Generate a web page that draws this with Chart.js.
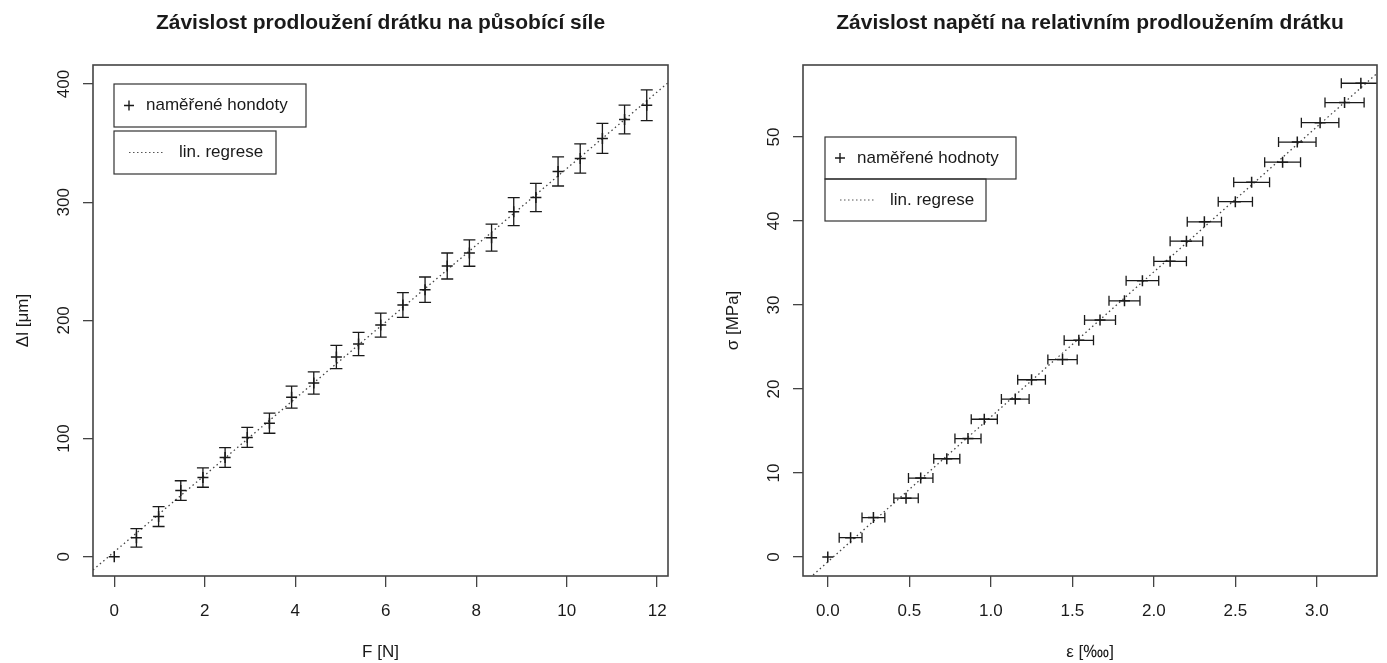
<!DOCTYPE html>
<html>
<head>
<meta charset="utf-8">
<script src="https://cdn.jsdelivr.net/npm/chart.js@4/dist/chart.umd.min.js"></script>
<style>
  html, body { margin: 0; padding: 0; background: #fff; }
  #wrap { position: relative; width: 1387px; height: 663px; }
  #wrap canvas { position: absolute; left: 0; top: 0; }
</style>
</head>
<body>
<div id="wrap">
  <canvas id="left-chart" width="1387" height="663"></canvas>
  <canvas id="right-chart" width="1387" height="663"></canvas>
</div>
<script>
// zavazi po 50 g -> sila F [N]
let forceN = [0, 0.49, 0.98, 1.47, 1.96, 2.45, 2.94, 3.43, 3.92, 4.41, 4.91, 5.40, 5.89,
              6.38, 6.87, 7.36, 7.85, 8.34, 8.83, 9.32, 9.81, 10.30, 10.79, 11.28, 11.77];
let elongUm = [0, 16, 34, 56, 67, 84, 101, 113, 135, 147, 169, 180, 196,
               213, 226, 246, 257, 270, 292, 304, 326, 337, 354, 370, 382];
let elongErr = [0, 7.8, 8.4, 8.3, 8.2, 8.3, 8.5, 8.5, 9.3, 9.4, 9.8, 9.9, 10.2,
                10.5, 10.7, 11.0, 11.2, 11.4, 11.8, 11.9, 12.3, 12.4, 12.7, 12.1, 13.0];

// relativni prodlouzeni a napeti
let strain = [0, 0.14, 0.28, 0.48, 0.57, 0.73, 0.86, 0.96, 1.15, 1.25, 1.44, 1.54, 1.67,
              1.82, 1.93, 2.10, 2.20, 2.31, 2.50, 2.60, 2.79, 2.88, 3.02, 3.17, 3.27];
let strainErr = [0, 0.07, 0.07, 0.075, 0.075, 0.08, 0.08, 0.08, 0.085, 0.085, 0.09, 0.09, 0.095,
                 0.095, 0.10, 0.10, 0.10, 0.105, 0.105, 0.11, 0.11, 0.115, 0.115, 0.12, 0.12];
let stressMPa = [0, 2.3, 4.7, 7.0, 9.4, 11.7, 14.1, 16.4, 18.8, 21.1, 23.5, 25.8, 28.2,
                 30.5, 32.9, 35.2, 37.6, 39.9, 42.3, 44.6, 47.0, 49.4, 51.7, 54.1, 56.4];

let forceTicks = [0, 2, 4, 6, 8, 10, 12];
let elongTicks = [0, 100, 200, 300, 400];
let strainTicks = [0, 0.5, 1.0, 1.5, 2.0, 2.5, 3.0];
let stressTicks = [0, 10, 20, 30, 40, 50];

const FONT = "'Liberation Sans', Arial, Helvetica, sans-serif";
const INK = '#1a1a1a';

// obycejna linearni regrese y = a + b x
let fit = (xs, ys) => {
  let n = xs.length, sx = 0, sy = 0, sxx = 0, sxy = 0;
  for (let i = 0; i < n; i++) { sx += xs[i]; sy += ys[i]; sxx += xs[i]*xs[i]; sxy += xs[i]*ys[i]; }
  let b = (n*sxy - sx*sy) / (n*sxx - sx*sx);
  return [(sy - b*sx) / n, b];
};

let rStyle = (cfg) => ({
  id: 'rstyle',
  afterDatasetsDraw(chart) {
    let ctx = chart.ctx, xs = chart.scales.x, ys = chart.scales.y, a = chart.chartArea;
    ctx.save();
    // chybove usecky orezat na oblast grafu jako v R
    ctx.beginPath();
    ctx.rect(a.left, a.top, a.right - a.left, a.bottom - a.top);
    ctx.clip();
    ctx.strokeStyle = INK;
    ctx.lineWidth = 1.3;
    cfg.xs.forEach((xv, i) => {
      let e = cfg.err[i];
      if (!e) return;
      let px = xs.getPixelForValue(xv), py = ys.getPixelForValue(cfg.ys[i]);
      ctx.beginPath();
      if (cfg.errAxis === 'y') {
        let y1 = ys.getPixelForValue(cfg.ys[i] - e), y2 = ys.getPixelForValue(cfg.ys[i] + e);
        ctx.moveTo(px, y1); ctx.lineTo(px, y2);
        ctx.moveTo(px - 6, y1); ctx.lineTo(px + 6, y1);
        ctx.moveTo(px - 6, y2); ctx.lineTo(px + 6, y2);
      } else {
        let x1 = xs.getPixelForValue(xv - e), x2 = xs.getPixelForValue(xv + e);
        ctx.moveTo(x1, py); ctx.lineTo(x2, py);
        ctx.moveTo(x1, py - 5); ctx.lineTo(x1, py + 5);
        ctx.moveTo(x2, py - 5); ctx.lineTo(x2, py + 5);
      }
      ctx.stroke();
    });
    ctx.restore();
  },
  afterDraw(chart) {
    let ctx = chart.ctx, a = chart.chartArea, ys = chart.scales.y;
    let cx = (a.left + a.right) / 2, cy = (a.top + a.bottom) / 2;
    ctx.save();
    // ramecek
    ctx.strokeStyle = '#444';
    ctx.lineWidth = 1.6;
    ctx.strokeRect(a.left, a.top, a.right - a.left, a.bottom - a.top);

    ctx.fillStyle = INK;
    // nadpis
    ctx.font = 'bold 21px ' + FONT;
    ctx.textAlign = 'center';
    ctx.textBaseline = 'alphabetic';
    ctx.fillText(cfg.title, cx, 29);

    ctx.font = '17px ' + FONT;
    ctx.textBaseline = 'middle';
    ctx.fillText(cfg.xTitle, cx, 652);

    // popisky osy y svisle jako v R
    ys.ticks.forEach(t => {
      ctx.save();
      ctx.translate(a.left - 29, ys.getPixelForValue(t.value));
      ctx.rotate(-Math.PI / 2);
      ctx.fillText(String(t.value), 0, 0);
      ctx.restore();
    });
    ctx.save();
    ctx.translate(a.left - 70, cy);
    ctx.rotate(-Math.PI / 2);
    ctx.fillText(cfg.yTitle, 0, 0);
    ctx.restore();

    // legenda: dva samostatne ramecky
    let lg = cfg.legend;
    ctx.strokeStyle = '#333';
    ctx.lineWidth = 1.2;
    ctx.strokeRect(lg.x, lg.y, lg.w1, lg.h);
    ctx.strokeRect(lg.x, lg.y + lg.h + lg.gap, lg.w2, lg.h);
    let m1 = lg.y + lg.h / 2, m2 = lg.y + lg.h * 1.5 + lg.gap;
    ctx.beginPath();
    ctx.moveTo(lg.x + 10, m1); ctx.lineTo(lg.x + 20, m1);
    ctx.moveTo(lg.x + 15, m1 - 5); ctx.lineTo(lg.x + 15, m1 + 5);
    ctx.strokeStyle = INK;
    ctx.lineWidth = 1.4;
    ctx.stroke();
    ctx.beginPath();
    ctx.setLineDash([1.5, 2.5]);
    ctx.strokeStyle = '#555';
    ctx.lineWidth = 1.2;
    ctx.moveTo(lg.x + 15, m2); ctx.lineTo(lg.x + 49, m2);
    ctx.stroke();
    ctx.setLineDash([]);
    ctx.textAlign = 'left';
    ctx.fillText(cfg.pointLabel, lg.x + 32, m1);
    ctx.fillText('lin. regrese', lg.x + 65, m2);
    ctx.restore();
  }
});

let makeChart = (id, cfg) => {
  let [a, b] = fit(cfg.xs, cfg.ys);
  let reg = [cfg.xMin, cfg.xMax].map(x => ({ x: x, y: a + b * x }));
  new Chart(document.getElementById(id), {
    type: 'scatter',
    data: {
      datasets: [
        {
          label: cfg.pointLabel,
          data: cfg.xs.map((x, i) => ({ x: x, y: cfg.ys[i] })),
          pointStyle: 'cross',
          pointRadius: 5.5,
          pointBorderWidth: 1.5,
          borderColor: INK,
          backgroundColor: INK
        },
        {
          label: 'lin. regrese',
          type: 'line',
          data: reg,
          borderColor: '#444',
          borderWidth: 1.3,
          borderDash: [1.5, 3],
          pointRadius: 0,
          fill: false
        }
      ]
    },
    options: {
      responsive: false,
      animation: false,
      devicePixelRatio: 1,
      events: [],
      layout: { padding: { left: cfg.padLeft, right: cfg.padRight, top: 65, bottom: 0 } },
      plugins: { legend: { display: false }, tooltip: { enabled: false } },
      scales: {
        x: {
          type: 'linear',
          min: cfg.xMin, max: cfg.xMax,
          afterBuildTicks: s => { s.ticks = cfg.xTicks.map(v => ({ value: v })); },
          afterFit: s => { s.height = 87; },
          grid: { drawOnChartArea: false, tickLength: 11, color: '#444', lineWidth: 1.3 },
          border: { display: false },
          ticks: { font: { family: FONT, size: 17 }, color: INK, padding: 14, maxRotation: 0,
                   callback: v => cfg.xFmt(v) }
        },
        y: {
          type: 'linear',
          min: cfg.yMin, max: cfg.yMax,
          afterBuildTicks: s => { s.ticks = cfg.yTicks.map(v => ({ value: v })); },
          afterFit: s => { s.width = cfg.yAxisW; },
          grid: { drawOnChartArea: false, tickLength: 10, color: '#444', lineWidth: 1.3 },
          border: { display: false },
          ticks: { display: false }
        }
      }
    },
    plugins: [rStyle(cfg)]
  });
};

makeChart('left-chart', {
  title: 'Závislost prodloužení drátku na působící síle',
  xTitle: 'F [N]', yTitle: 'Δl [μm]',
  pointLabel: 'naměřené hondoty',
  xs: forceN, ys: elongUm, err: elongErr, errAxis: 'y',
  xMin: -0.47, xMax: 12.24, yMin: -16.3, yMax: 416.1,
  xTicks: forceTicks, yTicks: elongTicks, xFmt: v => String(v),
  padLeft: 0, padRight: 1387 - 668, yAxisW: 93,
  legend: { x: 114, y: 84, w1: 192, w2: 162, h: 43, gap: 4 }
});

makeChart('right-chart', {
  title: 'Závislost napětí na relativním prodloužením drátku',
  xTitle: 'ε [‱]', yTitle: 'σ [MPa]',
  pointLabel: 'naměřené hodnoty',
  xs: strain, ys: stressMPa, err: strainErr, errAxis: 'x',
  xMin: -0.152, xMax: 3.369, yMin: -2.26, yMax: 58.57,
  xTicks: strainTicks, yTicks: stressTicks, xFmt: v => v.toFixed(1),
  padLeft: 700, padRight: 1387 - 1377, yAxisW: 103,
  legend: { x: 825, y: 137, w1: 191, w2: 161, h: 42, gap: 0 }
});
</script>
</body>
</html>
